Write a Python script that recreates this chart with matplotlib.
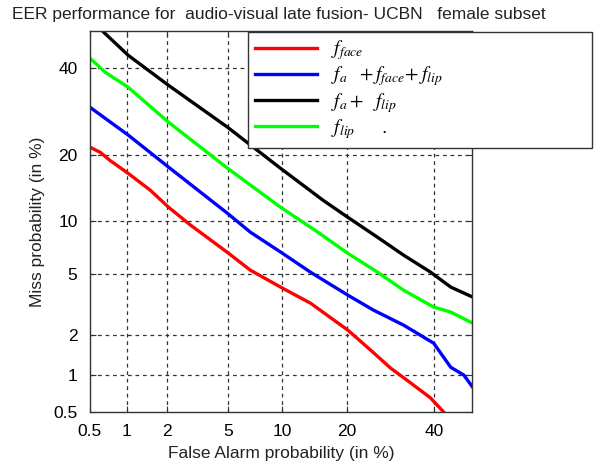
#!/usr/bin/env python3

from statistics import NormalDist
import numpy as np
import matplotlib
matplotlib.use('Agg')
import matplotlib.pyplot as plt

plt.rcParams['font.family'] = ['Liberation Sans', 'DejaVu Sans']
plt.rcParams['mathtext.fontset'] = 'stix'

# DET curves, values in % (false alarm, miss)
face_fa = [0.5, 0.61, 0.73, 1.02, 1.5, 2.03, 2.87, 5.03, 6.74, 10.05, 13.8, 20.1, 24.7, 29.2, 33.9, 39.0, 42.4]
face_miss = [21.6, 20.6, 19.1, 16.8, 14.1, 11.7, 9.5, 6.65, 5.3, 4.11, 3.29, 2.16, 1.55, 1.13, 0.87, 0.655, 0.5]

all_fa = [0.5, 1.02, 2.03, 4.95, 6.74, 10.05, 13.8, 20.1, 25.3, 32.2, 39.8, 44.3, 47.8, 50.2]
all_miss = [30.3, 24.1, 17.9, 10.9, 8.7, 6.65, 5.15, 3.71, 2.96, 2.34, 1.74, 1.15, 1.0, 0.80]

alip_fa = [0.58, 0.64, 1.02, 2.03, 4.95, 9.8, 15.8, 20.1, 26.2, 32.2, 39.0, 44.3, 50.2]
alip_miss = [52.0, 49.9, 43.5, 35.7, 25.8, 17.7, 12.6, 10.4, 8.16, 6.49, 5.15, 4.17, 3.60]

lip_fa = [0.5, 0.67, 1.02, 2.03, 4.95, 9.8, 14.9, 20.1, 26.2, 32.2, 39.8, 44.3, 50.2]
lip_miss = [42.7, 39.0, 35.2, 26.9, 17.7, 11.7, 8.7, 6.65, 5.15, 3.99, 3.10, 2.87, 2.41]

ticks = [1, 2, 5, 10, 20, 40]
tick_labels = ['0.5', '1', '2', '5', '10', '20', '40']

nd = NormalDist()
_ppf = np.vectorize(nd.inv_cdf, otypes=[float])
_cdf = np.vectorize(nd.cdf, otypes=[float])


def fwd(p):
    p = np.clip(np.asarray(p, dtype=float) / 100.0, 1e-9, 1 - 1e-9)
    return _ppf(p)


def inv(z):
    return _cdf(np.asarray(z, dtype=float)) * 100.0


fig = plt.figure(figsize=(5.98, 4.66), dpi=100)
ax = fig.add_axes([90/598, 1 - 412/466, 382/598, 381/466])
ax.set_xscale('function', functions=(fwd, inv))
ax.set_yscale('function', functions=(fwd, inv))

lw = 2.4
ax.plot(face_fa, face_miss, color='#ff0000', lw=lw, label='$f_{face}$')
ax.plot(all_fa, all_miss, color='#0000ff', lw=lw, label='$f_a\\ \\ +f_{face}\\!+f_{lip}$')
ax.plot(alip_fa, alip_miss, color='#000000', lw=lw, label='$f_a+\\ \\ f_{lip}$')
ax.plot(lip_fa, lip_miss, color='#00ff00', lw=lw, label='$f_{lip}$     .')

ax.set_xlim(0.5, 50)
ax.set_ylim(0.5, 50)
ax.set_xticks([0.5] + ticks)
ax.set_yticks([0.5] + ticks)
ax.set_xticklabels(tick_labels)
ax.set_yticklabels(tick_labels)
ax.minorticks_off()

for v in ticks:
    ax.axvline(v, color='#333333', lw=0.9, ls=(0, (3, 3)), zorder=0)
    ax.axhline(v, color='#333333', lw=0.9, ls=(0, (3, 3)), zorder=0)

ax.tick_params(direction='in', length=4, top=True, right=True, labelsize=12.5, color='#333333')
ax.tick_params(axis='x', pad=9)
ax.tick_params(axis='y', pad=9)
for s in ax.spines.values():
    s.set_color('#333333')
    s.set_linewidth(1.0)

ax.set_xlabel('False Alarm probability (in %)', fontsize=12.5, labelpad=5, color='#222222')
ax.set_ylabel('Miss probability (in %)', fontsize=12.5, labelpad=6, color='#222222')

fig.text(12/598, 1 - 14/466, 'EER performance for  audio-visual late fusion- UCBN   female subset',
         fontsize=12.5, ha='left', va='center', color='#222222')

leg = ax.legend(loc='upper left', bbox_to_anchor=(248/598, 1 - 32/466, 344/598, 0.001),
                bbox_transform=fig.transFigure, mode='expand', fancybox=False,
                framealpha=1, edgecolor='#333333', fontsize=14, handlelength=3.2,
                handletextpad=0.7, labelspacing=0.12, borderpad=0.35, borderaxespad=0)
leg.get_frame().set_linewidth(1.0)

fig.savefig('out.png', dpi=100)
